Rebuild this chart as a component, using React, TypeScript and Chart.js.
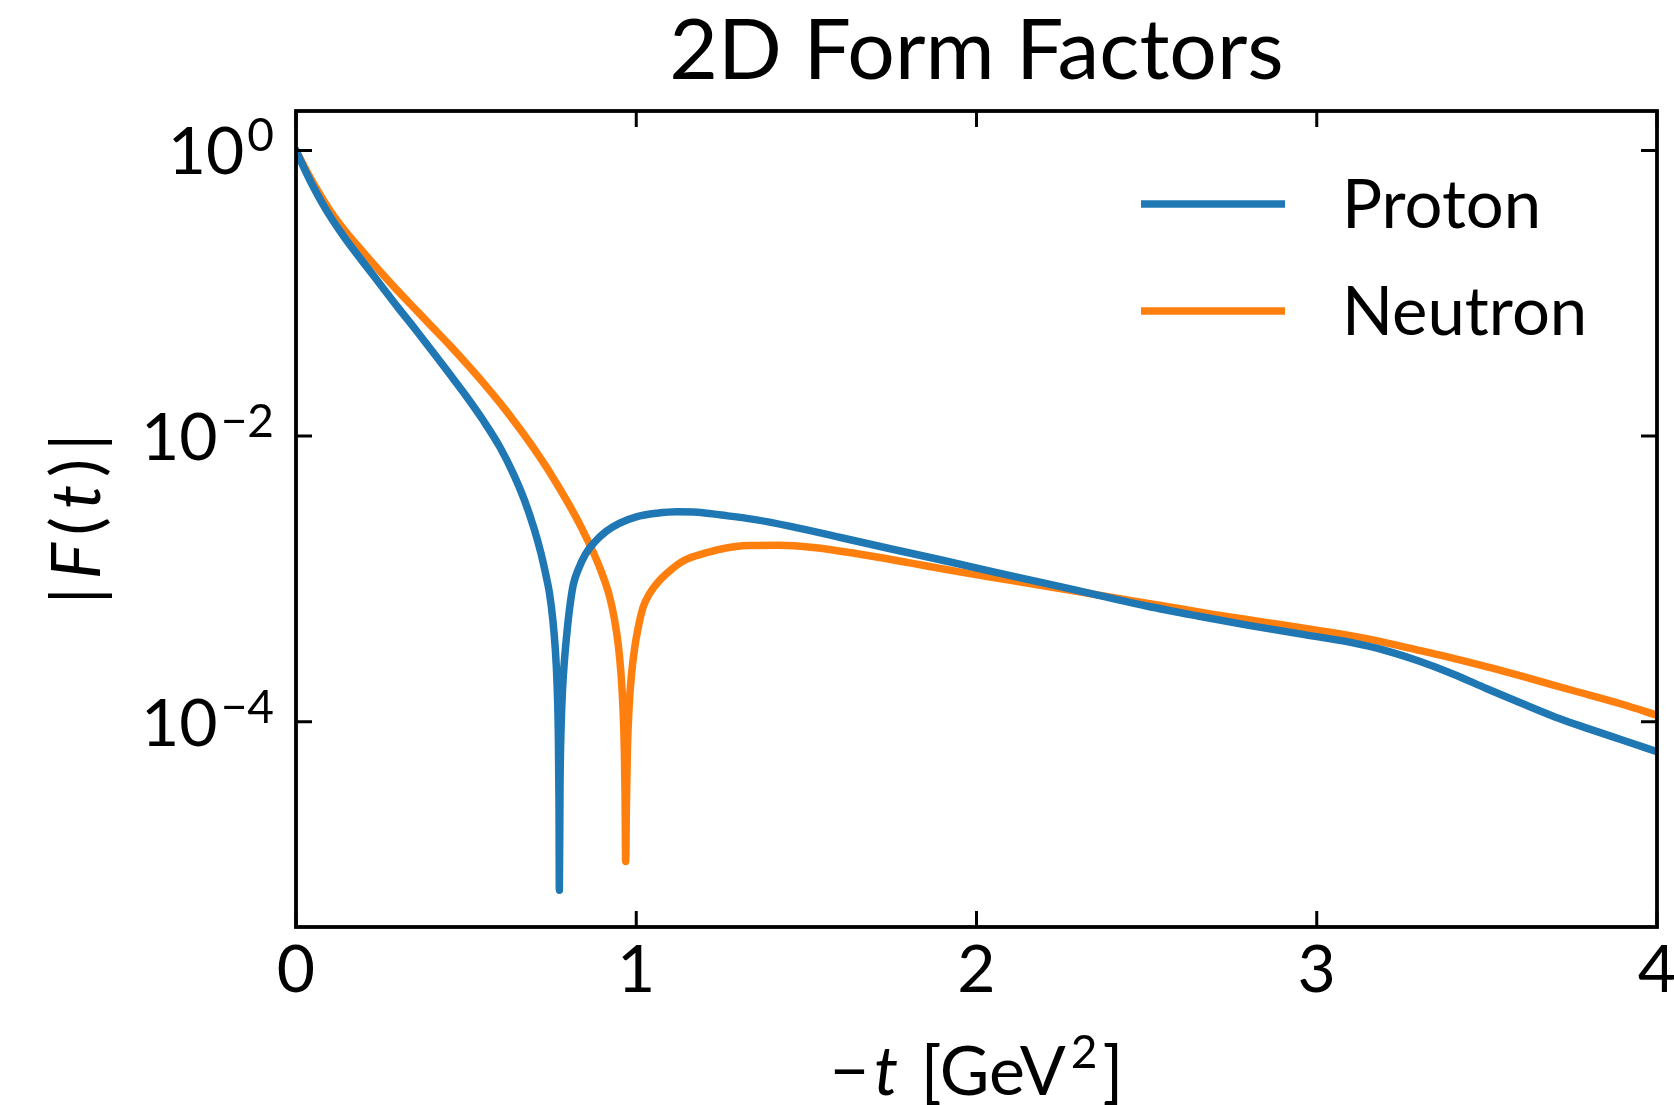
import { useEffect, useRef } from 'react';
import { Chart, registerables } from 'chart.js';

Chart.register(...registerables);

const FONT = 'Lato, "DejaVu Sans", sans-serif';

// ---- Data ----
const chartTitle = '2D Form Factors';
const seriesLabels = ['Proton', 'Neutron'];
const seriesColors = ['#1f77b4', '#ff7f0e'];

const protonT = [
  0.0, 0.025, 0.05, 0.075, 0.1, 0.125, 0.15, 0.2, 0.25, 0.3, 0.35, 0.4, 0.45, 0.5, 0.55, 0.6, 0.64, 0.67,
  0.7, 0.72, 0.735, 0.745, 0.755, 0.762, 0.767, 0.771, 0.773, 0.774, 0.776, 0.779, 0.783, 0.789, 0.797,
  0.805, 0.815, 0.83, 0.85, 0.875, 0.91, 0.95, 1.0, 1.06, 1.12, 1.18, 1.25, 1.35, 1.45, 1.6, 1.75, 1.9,
  2.05, 2.2, 2.35, 2.5, 2.65, 2.8, 2.95, 3.1, 3.2, 3.3, 3.4, 3.5, 3.6, 3.7, 3.8, 3.9, 4.0,
];
const protonF = [
  1.0, 0.741, 0.562, 0.437, 0.347, 0.282, 0.232, 0.162, 0.1135, 0.0794, 0.0562, 0.0394, 0.0275, 0.0191,
  0.0129, 0.00832, 0.00537, 0.00363, 0.00224, 0.00151, 0.00105, 0.000794, 0.000513, 0.000324, 0.000191,
  0.0000813, 0.0000269, 0.00000661, 0.0000363, 0.0000891, 0.000162, 0.000269, 0.000437, 0.000646,
  0.000912, 0.00117, 0.00148, 0.00178, 0.00214, 0.00245, 0.00272, 0.00288, 0.00295, 0.00293, 0.0028,
  0.0026, 0.00234, 0.00195, 0.00162, 0.00135, 0.00112, 0.000933, 0.000776, 0.000646, 0.00055, 0.000473,
  0.000412, 0.000359, 0.000316, 0.000266, 0.000216, 0.00017, 0.000135, 0.000108, 0.0000891, 0.0000741,
  0.0000617,
];

const neutronT = [
  0.0, 0.025, 0.05, 0.075, 0.1, 0.125, 0.15, 0.2, 0.25, 0.3, 0.35, 0.4, 0.45, 0.5, 0.55, 0.6, 0.65, 0.7,
  0.75, 0.8, 0.84, 0.875, 0.9, 0.92, 0.935, 0.947, 0.955, 0.961, 0.965, 0.967, 0.969, 0.971, 0.974, 0.979,
  0.986, 0.995, 1.005, 1.02, 1.04, 1.065, 1.095, 1.13, 1.16, 1.2, 1.25, 1.33, 1.42, 1.52, 1.65, 1.8, 1.95,
  2.1, 2.25, 2.4, 2.55, 2.7, 2.85, 3.0, 3.15, 3.3, 3.45, 3.6, 3.75, 3.9, 4.0,
];
const neutronF = [
  1.0, 0.767, 0.596, 0.473, 0.38, 0.313, 0.263, 0.191, 0.14, 0.1035, 0.0776, 0.0582, 0.0437, 0.0324,
  0.0237, 0.017, 0.0119, 0.00813, 0.00537, 0.00339, 0.00226, 0.00151, 0.00108, 0.000776, 0.000537,
  0.000347, 0.000219, 0.000126, 0.0000631, 0.0000316, 0.0000105, 0.0000251, 0.0000631, 0.000126,
  0.000214, 0.000324, 0.000447, 0.000631, 0.000794, 0.000955, 0.00112, 0.0013, 0.00141, 0.00151, 0.00162,
  0.00171, 0.00172, 0.00166, 0.0015, 0.0013, 0.00112, 0.000977, 0.000851, 0.000741, 0.000646, 0.000562,
  0.000496, 0.000437, 0.00038, 0.000316, 0.00026, 0.000209, 0.000166, 0.000132, 0.000111,
];

const xTickValues = [0, 1, 2, 3, 4];
const yTickValues = [1e-4, 1e-2, 1];
const yTickBase = '10';
const yTickExponents = ['−4', '−2', '0'];
const xRange = [0, 4];
const yRange = [3.65e-6, 1.89];

type Piece = { text: string; italic?: boolean; sup?: boolean };
const xAxisLabel: Piece[] = [
  { text: '−' },
  { text: 't', italic: true },
  { text: ' [GeV' },
  { text: '2', sup: true },
  { text: ']' },
];
const yAxisLabel: Piece[] = [
  { text: '|' },
  { text: 'F', italic: true },
  { text: '(' },
  { text: 't', italic: true },
  { text: ')' },
  { text: '|' },
];

const TICK_SIZE = 66;
const LABEL_SIZE = 68;
const SUP_SIZE = 46;

function pieceFont(p: Piece) {
  const size = p.sup ? SUP_SIZE : LABEL_SIZE;
  return `${p.italic ? 'italic ' : ''}${size}px ${FONT}`;
}

function drawPieces(ctx: CanvasRenderingContext2D, pieces: Piece[], cx: number, baseline: number, gap: number) {
  const widths = pieces.map((p) => {
    ctx.font = pieceFont(p);
    return ctx.measureText(p.text).width;
  });
  const total = widths.reduce((s, w) => s + w, 0) + gap * (pieces.length - 1);
  let x = cx - total / 2;
  ctx.textAlign = 'left';
  ctx.textBaseline = 'alphabetic';
  pieces.forEach((p, i) => {
    ctx.font = pieceFont(p);
    ctx.fillText(p.text, x, p.sup ? baseline - 27 : baseline);
    x += widths[i] + gap;
  });
}

const decorPlugin = {
  id: 'decor',
  afterDraw(chart: any) {
    const { ctx, chartArea: a, scales } = chart;
    const xs = scales.x;
    const ys = scales.y;
    ctx.save();
    ctx.fillStyle = '#000';
    ctx.strokeStyle = '#000';
    ctx.lineCap = 'butt';

    // inward ticks on all four sides
    ctx.lineWidth = 3;
    const tl = 16;
    ctx.beginPath();
    xTickValues.forEach((v) => {
      const px = xs.getPixelForValue(v);
      ctx.moveTo(px, a.bottom);
      ctx.lineTo(px, a.bottom - tl);
      ctx.moveTo(px, a.top);
      ctx.lineTo(px, a.top + tl);
    });
    yTickValues.forEach((v) => {
      const py = ys.getPixelForValue(v);
      ctx.moveTo(a.left, py);
      ctx.lineTo(a.left + tl, py);
      ctx.moveTo(a.right, py);
      ctx.lineTo(a.right - tl, py);
    });
    ctx.stroke();

    // frame
    ctx.lineWidth = 3.8;
    ctx.strokeRect(a.left, a.top, a.right - a.left, a.bottom - a.top);

    // y tick labels: 10 with raised exponent
    yTickValues.forEach((v, i) => {
      const py = ys.getPixelForValue(v);
      const right = a.left - 22;
      ctx.textAlign = 'right';
      ctx.textBaseline = 'alphabetic';
      ctx.font = `${SUP_SIZE}px ${FONT}`;
      const ew = ctx.measureText(yTickExponents[i]).width;
      ctx.fillText(yTickExponents[i], right, py + 1);
      ctx.font = `${TICK_SIZE}px ${FONT}`;
      ctx.fillText(yTickBase, right - ew - 3, py + 24);
    });

    // legend
    const legendY = [a.top + 93, a.top + 200];
    chart.data.datasets.forEach((ds: any, i: number) => {
      ctx.strokeStyle = ds.borderColor;
      ctx.lineWidth = 7.5;
      ctx.beginPath();
      ctx.moveTo(1141, legendY[i]);
      ctx.lineTo(1285, legendY[i]);
      ctx.stroke();
      ctx.fillStyle = '#000';
      ctx.font = `67px ${FONT}`;
      ctx.textAlign = 'left';
      ctx.textBaseline = 'alphabetic';
      ctx.fillText(ds.label, 1342, legendY[i] + 23.5);
    });

    // x axis label
    ctx.fillStyle = '#000';
    drawPieces(ctx, xAxisLabel, (a.left + a.right) / 2, 1095, 5);

    // y axis label (rotated)
    ctx.save();
    ctx.translate(100, (a.top + a.bottom) / 2);
    ctx.rotate(-Math.PI / 2);
    drawPieces(ctx, yAxisLabel, 0, 0, 8);
    ctx.restore();

    ctx.restore();
  },
};

export default function App() {
  const ref = useRef<HTMLCanvasElement | null>(null);

  useEffect(() => {
    if (!ref.current) return;
    const makeData = (ts: number[], fs: number[]) => ts.map((t, i) => ({ x: t, y: fs[i] }));
    const lineStyle = {
      borderWidth: 7.5,
      pointRadius: 0,
      tension: 0,
      cubicInterpolationMode: 'monotone',
      borderCapStyle: 'round',
      borderJoinStyle: 'round',
      clip: 0,
    };
    const chart = new Chart(ref.current, {
      type: 'line',
      data: {
        datasets: [
          {
            label: seriesLabels[0],
            data: makeData(protonT, protonF),
            borderColor: seriesColors[0],
            backgroundColor: seriesColors[0],
            ...lineStyle,
          },
          {
            label: seriesLabels[1],
            data: makeData(neutronT, neutronF),
            borderColor: seriesColors[1],
            backgroundColor: seriesColors[1],
            ...lineStyle,
          },
        ],
      } as any,
      options: {
        responsive: false,
        animation: false,
        events: [],
        layout: { padding: { left: 0, right: 17, top: 0, bottom: 0 } },
        plugins: {
          legend: { display: false },
          tooltip: { enabled: false },
          title: {
            display: true,
            text: chartTitle,
            color: '#000',
            fullSize: false,
            font: { family: FONT, size: 84, weight: 'normal' },
            padding: { top: 2, bottom: 8.2 },
          },
        },
        scales: {
          x: {
            type: 'linear',
            min: xRange[0],
            max: xRange[1],
            grid: { display: false, drawTicks: false },
            border: { display: false },
            ticks: {
              stepSize: 1,
              color: '#000',
              padding: 4,
              font: { family: FONT, size: TICK_SIZE },
              callback: (v: any) => String(v),
            },
            afterFit: (s: any) => {
              s.height = 178;
              s.paddingLeft = 0;
              s.paddingRight = 0;
            },
          },
          y: {
            type: 'logarithmic',
            min: yRange[0],
            max: yRange[1],
            grid: { display: false, drawTicks: false },
            border: { display: false },
            ticks: { display: false },
            afterBuildTicks: (s: any) => {
              s.ticks = yTickValues.map((v) => ({ value: v }));
            },
            afterFit: (s: any) => {
              s.width = 296;
              s.paddingTop = 0;
              s.paddingBottom = 0;
            },
          },
        },
      } as any,
      plugins: [decorPlugin],
    });
    return () => chart.destroy();
  }, []);

  return (
    <div style={{ position: 'absolute', left: 0, top: 0, width: 1674, height: 1105, background: '#fff' }}>
      <canvas ref={ref} width={1674} height={1105} style={{ display: 'block' }} />
    </div>
  );
}
